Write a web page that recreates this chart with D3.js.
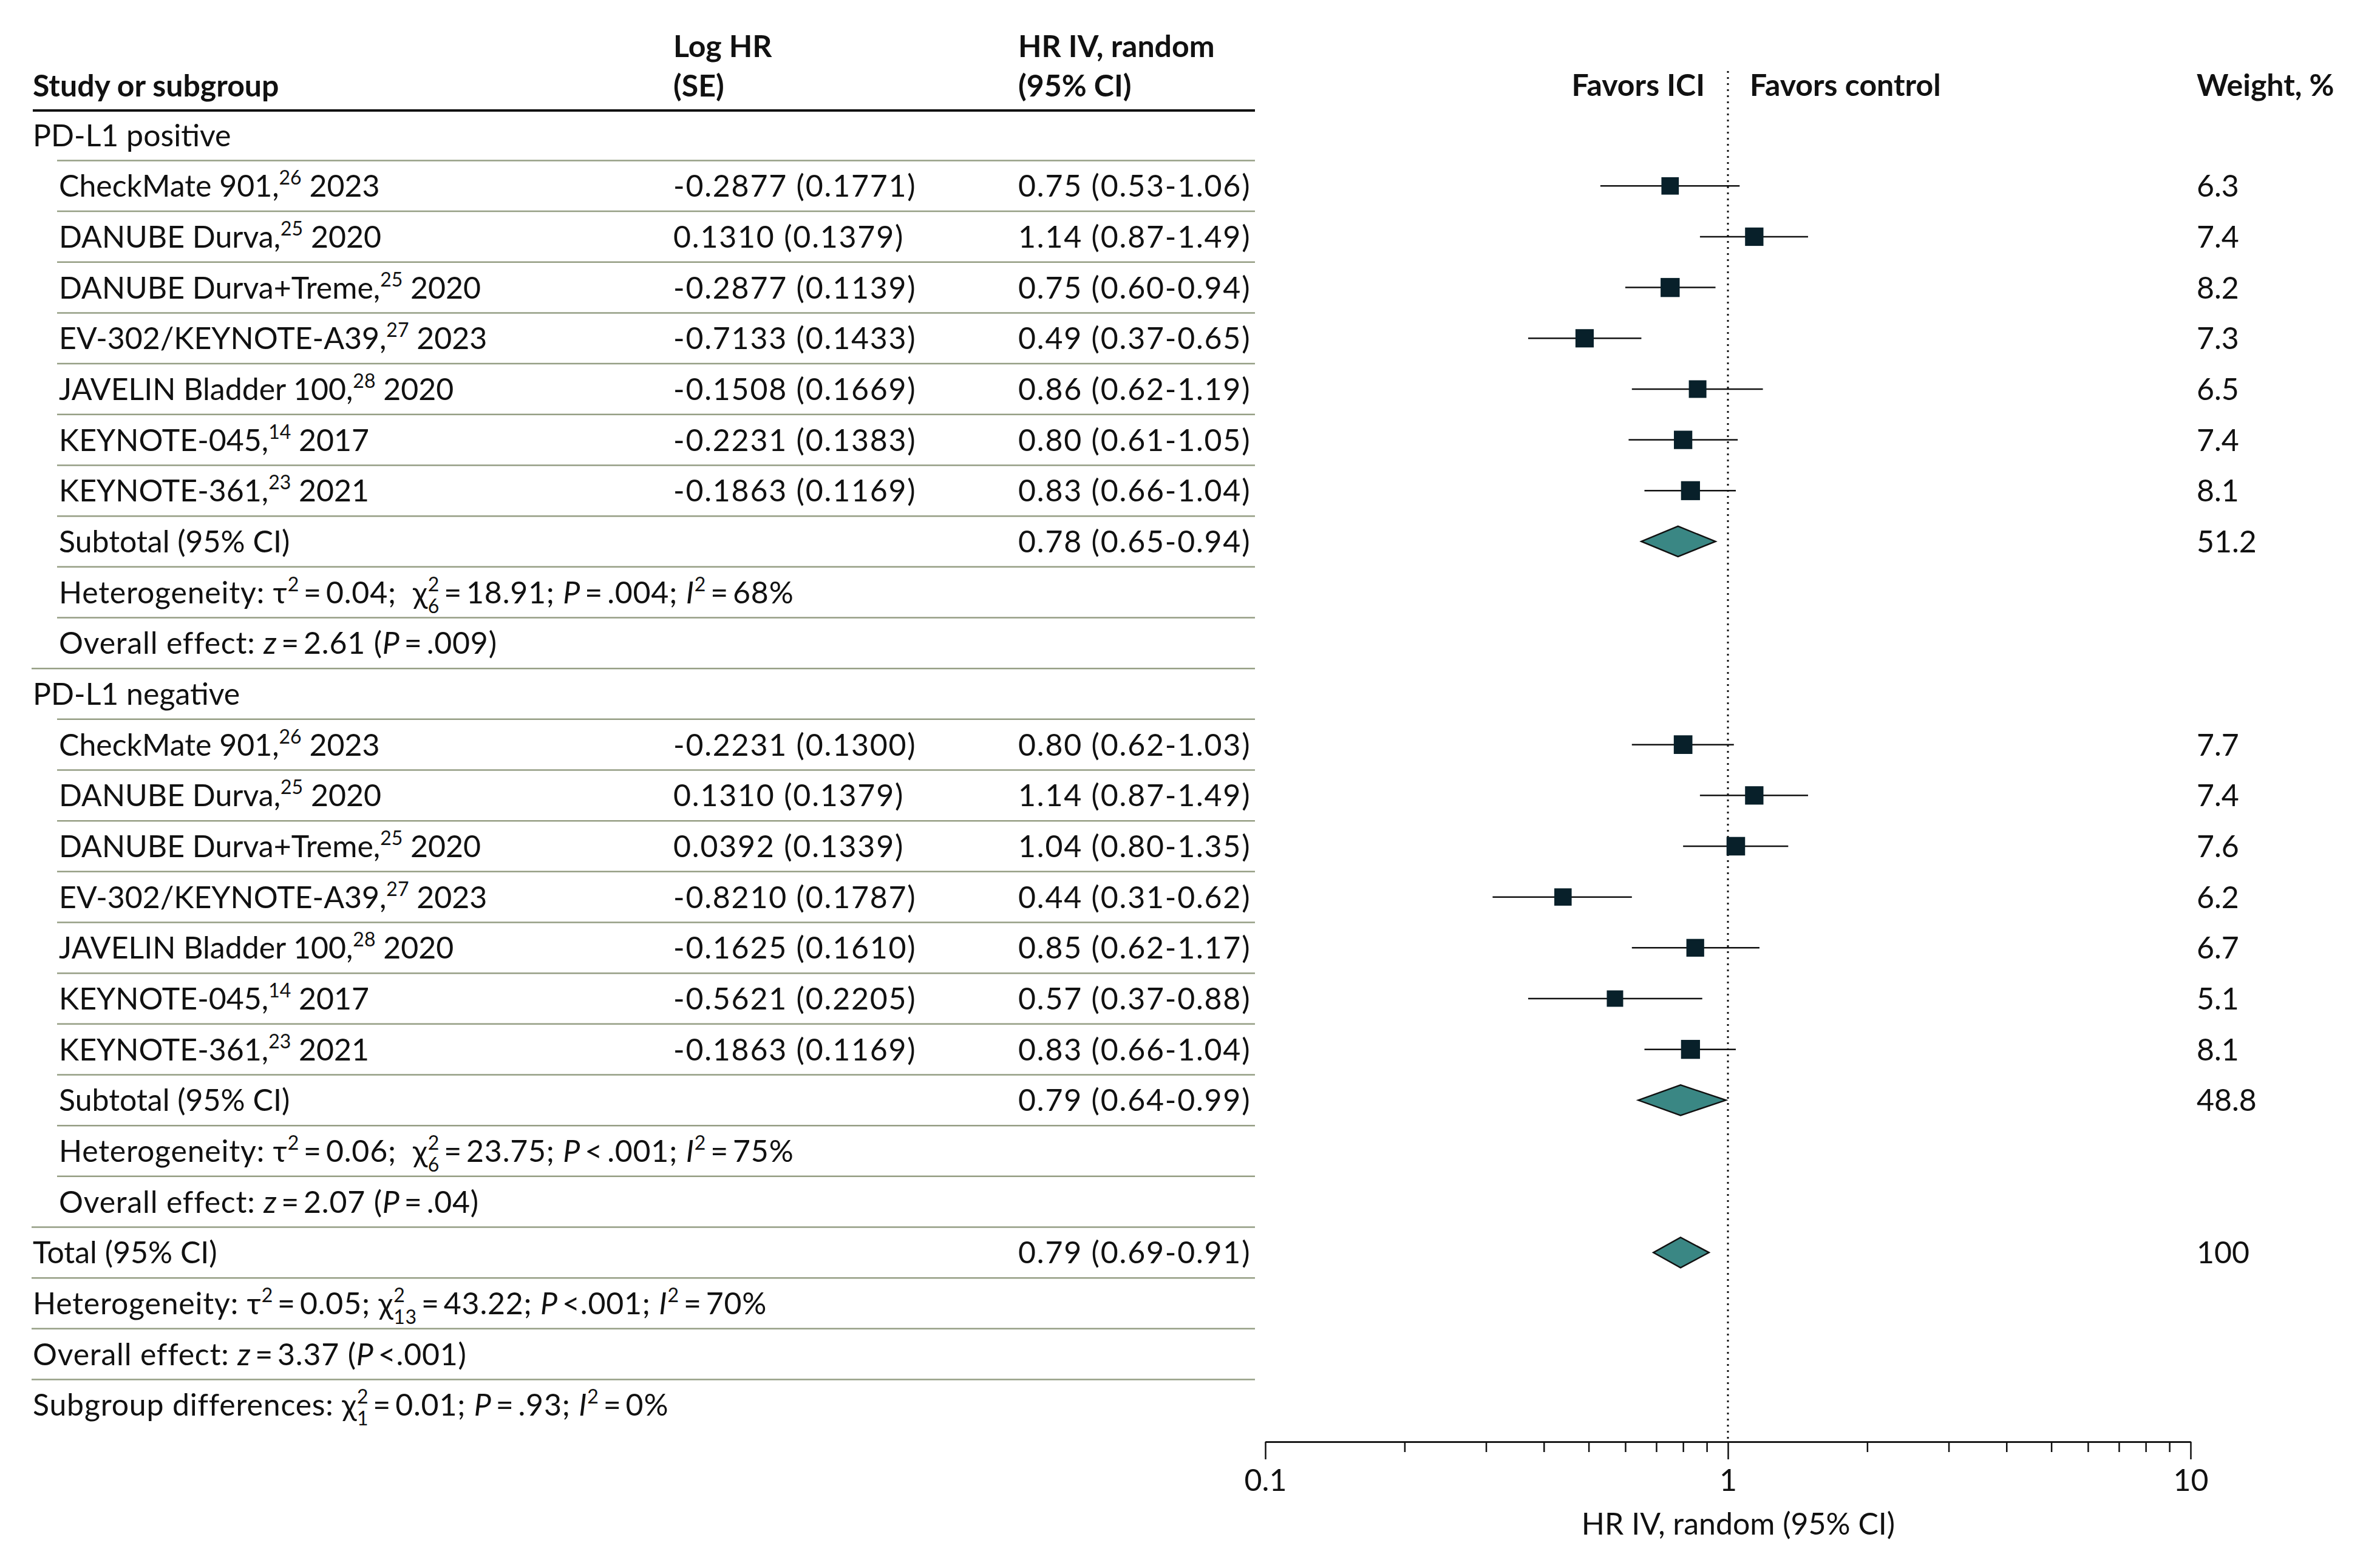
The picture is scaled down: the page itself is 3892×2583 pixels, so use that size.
<!DOCTYPE html>
<html>
<head>
<meta charset="utf-8">
<script src="https://cdn.jsdelivr.net/npm/d3@7"></script>
<style>
  html, body { margin: 0; padding: 0; background: #fff; }
  svg { display: block; }
  text { font-family: Lato, "Noto Sans", sans-serif; fill: #111; white-space: pre; }
</style>
</head>
<body>
<svg id="chart" width="3892" height="2583"></svg>
<script>
// ---------------- DATA ----------------
const groups = ["PD-L1 positive", "PD-L1 negative"];
const studyNames = ["CheckMate 901", "DANUBE Durva", "DANUBE Durva+Treme", "EV-302/KEYNOTE-A39", "JAVELIN Bladder 100", "KEYNOTE-045", "KEYNOTE-361"];
const studyRefs = ["26", "25", "25", "27", "28", "14", "23"];
const studyYears = ["2023", "2020", "2020", "2023", "2020", "2017", "2021"];

const posLogHR = [-0.2877, 0.1310, -0.2877, -0.7133, -0.1508, -0.2231, -0.1863];
const posSE    = [0.1771, 0.1379, 0.1139, 0.1433, 0.1669, 0.1383, 0.1169];
const posHR    = [0.75, 1.14, 0.75, 0.49, 0.86, 0.80, 0.83];
const posLo    = [0.53, 0.87, 0.60, 0.37, 0.62, 0.61, 0.66];
const posHi    = [1.06, 1.49, 0.94, 0.65, 1.19, 1.05, 1.04];
const posWeight = [6.3, 7.4, 8.2, 7.3, 6.5, 7.4, 8.1];

const negLogHR = [-0.2231, 0.1310, 0.0392, -0.8210, -0.1625, -0.5621, -0.1863];
const negSE    = [0.1300, 0.1379, 0.1339, 0.1787, 0.1610, 0.2205, 0.1169];
const negHR    = [0.80, 1.14, 1.04, 0.44, 0.85, 0.57, 0.83];
const negLo    = [0.62, 0.87, 0.80, 0.31, 0.62, 0.37, 0.66];
const negHi    = [1.03, 1.49, 1.35, 0.62, 1.17, 0.88, 1.04];
const negWeight = [7.7, 7.4, 7.6, 6.2, 6.7, 5.1, 8.1];

const subtotalHR = [0.78, 0.79];
const subtotalLo = [0.65, 0.64];
const subtotalHi = [0.94, 0.99];
const subtotalWeight = [51.2, 48.8];
const subTau2 = ["0.04", "0.06"];
const subChi2 = ["18.91", "23.75"];
const subDf = ["6", "6"];
const subHetP = ["=", "<"];
const subHetPval = [".004", ".001"];
const subI2 = ["68", "75"];
const subZ = ["2.61", "2.07"];
const subZPop = ["=", "="];
const subZP = [".009", ".04"];

const totalHR = 0.79, totalLo = 0.69, totalHi = 0.91, totalWeight = 100;
const totalTau2 = "0.05", totalChi2 = "43.22", totalDf = "13", totalHetP = ".001", totalI2 = "70";
const totalZ = "3.37", totalZP = ".001";
const diffChi2 = "0.01", diffDf = "1", diffP = ".93", diffI2 = "0";

const majorTicks = [0.1, 1, 10];
const minorTicks = [0.2, 0.3, 0.4, 0.5, 0.6, 0.7, 0.8, 0.9, 2, 3, 4, 5, 6, 7, 8, 9];
const axisTitle = "HR IV, random (95% CI)";

// ---------------- LAYOUT ----------------
const FS = 50;
const svg = d3.select("#chart");
const f2 = d3.format(".2f"), f4 = d3.format(".4f");
const fmtLog = v => (v < 0 ? "-" : "") + f4(Math.abs(v));
const TS = "\u2009";

// build rows
const rows = [];
function addGroup(gi, logHR, se, hr, lo, hi, w) {
  rows.push({type: "group", level: 0, segs: [[groups[gi]]]});
  studyNames.forEach((n, i) => rows.push({
    type: "study", level: 1,
    segs: [[n + ","], [studyRefs[i], "sup"], [" " + studyYears[i]]],
    logse: fmtLog(logHR[i]) + " (" + f4(se[i]) + ")",
    hr: hr[i], lo: lo[i], hi: hi[i], w: w[i]
  }));
  rows.push({type: "subtotal", level: 1, segs: [["Subtotal (95% CI)"]],
    hr: subtotalHR[gi], lo: subtotalLo[gi], hi: subtotalHi[gi], w: subtotalWeight[gi]});
  rows.push({type: "het", level: 1, segs: [
    ["Heterogeneity: \u03C4"], ["2", "sup"], [TS + "=" + TS + subTau2[gi] + ";  \u03C7"], ["2", "supsub", subDf[gi]],
    [TS + "=" + TS + subChi2[gi] + "; "], ["P", "i"], [TS + subHetP[gi] + TS + subHetPval[gi] + "; "], ["I", "i"], ["2", "sup"],
    [TS + "=" + TS + subI2[gi] + "%"]]});
  rows.push({type: "overall", level: 1, segs: [
    ["Overall effect: "], ["z", "i"], [TS + "=" + TS + subZ[gi] + " ("], ["P", "i"], [TS + subZPop[gi] + TS + subZP[gi] + ")"]]});
}
addGroup(0, posLogHR, posSE, posHR, posLo, posHi, posWeight);
addGroup(1, negLogHR, negSE, negHR, negLo, negHi, negWeight);
rows.push({type: "subtotal", level: 0, segs: [["Total (95% CI)"]], hr: totalHR, lo: totalLo, hi: totalHi, w: totalWeight});
rows.push({type: "het", level: 0, segs: [
  ["Heterogeneity: \u03C4"], ["2", "sup"], [TS + "=" + TS + totalTau2 + "; \u03C7"], ["2", "supsub", totalDf],
  [TS + "=" + TS + totalChi2 + "; "], ["P", "i"], [TS + "<" + totalHetP + "; "], ["I", "i"], ["2", "sup"], [TS + "=" + TS + totalI2 + "%"]]});
rows.push({type: "overall", level: 0, segs: [
  ["Overall effect: "], ["z", "i"], [TS + "=" + TS + totalZ + " ("], ["P", "i"], [TS + "<" + totalZP + ")"]]});
rows.push({type: "diff", level: 0, segs: [
  ["Subgroup differences: \u03C7"], ["2", "supsub", diffDf], [TS + "=" + TS + diffChi2 + "; "], ["P", "i"],
  [TS + "=" + TS + diffP + "; "], ["I", "i"], ["2", "sup"], [TS + "=" + TS + diffI2 + "%"]]});

const STEP = 83.67;
const y = d3.scaleBand().domain(d3.range(rows.length))
  .range([222.6 - STEP / 2, 222.6 - STEP / 2 + STEP * rows.length]).padding(0);
const yc = i => y(i) + y.bandwidth() / 2;

const x = d3.scaleLog().domain([0.1, 10]).range([2084, 3608]);
const sq = d3.scaleLinear().domain([5.1, 8.2]).range([27, 31.4]);

const colStudy0 = 54, colStudy1 = 97, colLog = 1109, colHR = 1677, colW = 3618, tableRight = 2067;
const NUM_LS = "1.8px", STAT_LS = "0.8px";

// rich text renderer
function rich(g, x0, yb, segs, size, ls) {
  const t = g.append("text").attr("x", x0).attr("y", yb).style("font-size", size + "px");
  if (ls) t.style("letter-spacing", ls);
  let shift = 0;
  segs.forEach(s => {
    const [str, kind, sub] = s;
    if (kind === "sup" || kind === "supsub") {
      const sp = t.append("tspan").text(str).style("font-size", (size * 0.64) + "px")
        .attr("dy", -0.4 * size - shift);
      shift = -0.4 * size;
      if (kind === "supsub") {
        const w = sp.node().getComputedTextLength();
        t.append("tspan").text(sub).style("font-size", (size * 0.64) + "px")
          .attr("dx", -w).attr("dy", 0.72 * size);
        shift = 0.32 * size;
      }
    } else {
      const sp = t.append("tspan").text(str).attr("dy", -shift);
      shift = 0;
      if (kind === "i") sp.style("font-style", "italic");
    }
  });
  return t;
}

// ---------------- HEADER ----------------
const head = svg.append("g").style("font-weight", "700").style("font-size", FS + "px");
head.append("text").attr("x", colStudy0).attr("y", 159).text("Study or subgroup");
head.append("text").attr("x", colLog).attr("y", 94).text("Log HR");
head.append("text").attr("x", colLog).attr("y", 159).text("(SE)");
head.append("text").attr("x", colHR).attr("y", 94).text("HR IV, random");
head.append("text").attr("x", colHR).attr("y", 159).text("(95% CI)");
head.append("text").attr("x", x(1) - 38).attr("y", 158).attr("text-anchor", "end").text("Favors ICI");
head.append("text").attr("x", x(1) + 36).attr("y", 158).text("Favors control");
head.append("text").attr("x", colW).attr("y", 158).text("Weight, %");

svg.append("line").attr("x1", colStudy0).attr("x2", tableRight).attr("y1", 182).attr("y2", 182)
  .attr("stroke", "#111").attr("stroke-width", 4);

// ---------------- ROW SEPARATORS ----------------
svg.append("g").selectAll("line").data(rows.slice(0, -1).map((r, i) => i)).join("line")
  .attr("x1", i => rows[i + 1].level === 0 ? 52 : 94)
  .attr("x2", tableRight)
  .attr("y1", i => y(i) + y.bandwidth()).attr("y2", i => y(i) + y.bandwidth())
  .attr("stroke", "#959e84").attr("stroke-width", 2.5);

// ---------------- ROW TEXT ----------------
const body = svg.append("g");
rows.forEach((r, i) => {
  const yb = yc(i) + 0.36 * FS;
  const isStat = r.type === "het" || r.type === "overall" || r.type === "diff";
  rich(body, r.level === 0 ? colStudy0 : colStudy1, yb, r.segs, FS, isStat ? STAT_LS : null);
  if (r.logse) body.append("text").attr("x", colLog).attr("y", yb).style("font-size", FS + "px")
    .style("letter-spacing", NUM_LS).text(r.logse);
  if (r.hr !== undefined) {
    body.append("text").attr("x", colHR).attr("y", yb).style("font-size", FS + "px")
      .style("letter-spacing", NUM_LS).text(f2(r.hr) + " (" + f2(r.lo) + "-" + f2(r.hi) + ")");
    body.append("text").attr("x", colW).attr("y", yb).style("font-size", FS + "px").text(r.w);
  }
});

// ---------------- AXIS ----------------
const axisY = 2375;
// null line
svg.append("line").attr("x1", x(1)).attr("x2", x(1)).attr("y1", 117).attr("y2", axisY)
  .attr("stroke", "#111").attr("stroke-width", 3).attr("stroke-dasharray", "3 7");

const gMinor = svg.append("g").attr("transform", `translate(0,${axisY})`)
  .call(d3.axisBottom(x).tickValues(minorTicks).tickSize(17).tickSizeOuter(0).tickFormat(""));
const gMajor = svg.append("g").attr("transform", `translate(0,${axisY})`)
  .call(d3.axisBottom(x).tickValues(majorTicks).tickSize(29).tickSizeOuter(0).tickPadding(16)
    .tickFormat(d => d3.format("")(d)));
[gMinor, gMajor].forEach(g => {
  g.selectAll("path.domain").attr("stroke", "#111").attr("stroke-width", 2.5);
  g.selectAll(".tick line").attr("stroke", "#111").attr("stroke-width", 2.5);
});
gMajor.selectAll(".tick text").style("font-family", "Lato, sans-serif").style("font-size", FS + "px").attr("fill", "#111");
svg.append("text").attr("x", 2863).attr("y", 2528).attr("text-anchor", "middle")
  .style("font-size", FS + "px").text(axisTitle);

// ---------------- MARKS ----------------
const marks = svg.append("g");
const studyIdx = rows.map((r, i) => i).filter(i => rows[i].type === "study");
const sumIdx = rows.map((r, i) => i).filter(i => rows[i].type === "subtotal");

marks.selectAll("line.ci").data(studyIdx).join("line").attr("class", "ci")
  .attr("x1", i => x(rows[i].lo)).attr("x2", i => x(rows[i].hi))
  .attr("y1", i => yc(i)).attr("y2", i => yc(i))
  .attr("stroke", "#111").attr("stroke-width", 2.5);
marks.selectAll("rect.sq").data(studyIdx).join("rect").attr("class", "sq")
  .attr("x", i => x(rows[i].hr) - sq(rows[i].w) / 2)
  .attr("y", i => yc(i) - sq(rows[i].w) / 2)
  .attr("width", i => sq(rows[i].w)).attr("height", i => sq(rows[i].w))
  .attr("fill", "#08202a");

const DH = 25;
marks.selectAll("path.dia").data(sumIdx).join("path").attr("class", "dia")
  .attr("d", i => {
    const r = rows[i], c = yc(i);
    return `M${x(r.lo)},${c}L${x(r.hr)},${c - DH}L${x(r.hi)},${c}L${x(r.hr)},${c + DH}Z`;
  })
  .attr("fill", "#3a8784").attr("stroke", "#111").attr("stroke-width", 2.5).attr("stroke-linejoin", "miter");
</script>
</body>
</html>
